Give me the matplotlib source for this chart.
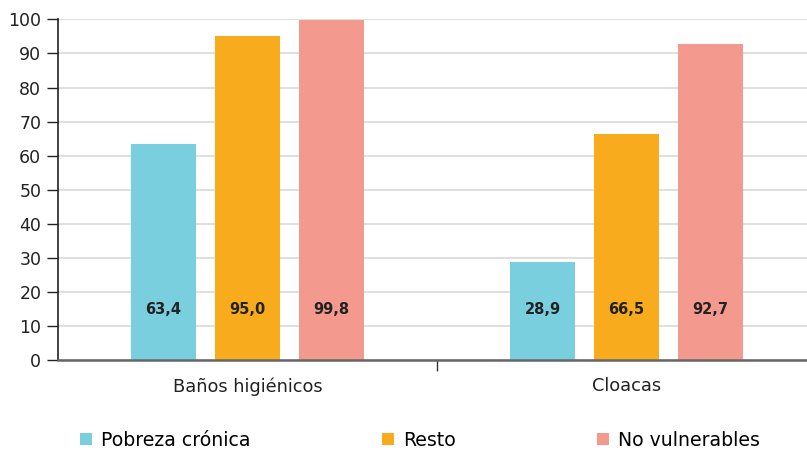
import matplotlib
matplotlib.use("Agg")
import matplotlib.pyplot as plt
import numpy as np

categories = ["Baños higiénicos", "Cloacas"]
series_names = ["Pobreza crónica", "Resto", "No vulnerables"]
pobreza_cronica = [63.4, 28.9]
resto = [95.0, 66.5]
no_vulnerables = [99.8, 92.7]
y_ticks = [0, 10, 20, 30, 40, 50, 60, 70, 80, 90, 100]

colors = ["#7ACFDF", "#F9AB1E", "#F4998D"]
plt.rcParams["font.family"] = ["DejaVu Sans"]

fig = plt.figure(figsize=(8.07, 4.5), dpi=100)
ax = fig.add_axes([58 / 807, 0.199, 1 - 58 / 807, 0.758])

x = np.arange(len(categories))
step = 0.2216
width = 0.174
values = [pobreza_cronica, resto, no_vulnerables]
bars = []
for i, (vals, col) in enumerate(zip(values, colors)):
    b = ax.bar(x + (i - 1) * step, vals, width=width, color=col, zorder=3,
               label=series_names[i])
    bars.append(b)
    for xi, v in zip(x + (i - 1) * step, vals):
        ax.text(xi, 15, f"{v:.1f}".replace(".", ","), ha="center", va="center",
                fontsize=10.5, fontweight="bold", color="#222222", zorder=4)

ax.set_xlim(-0.5, 1.5 - 9 / 379)
ax.set_ylim(0, 100)
ax.set_yticks(y_ticks)
ax.tick_params(axis="y", labelsize=12.5, colors="#222222", length=8, width=1,
               direction="out", pad=4)
ax.yaxis.grid(True, color="#d9d9d9", linewidth=1.2, zorder=0)
ax.set_axisbelow(True)

ax.set_xticks(x)
ax.set_xticklabels(categories, fontsize=12.8, color="#222222")
ax.tick_params(axis="x", length=0, pad=12)
ax.set_xticks([0.5], minor=True)
ax.tick_params(axis="x", which="minor", length=8, width=1, color="#333333")

for s in ["top", "right"]:
    ax.spines[s].set_visible(False)
ax.spines["left"].set_color("#222222")
ax.spines["left"].set_linewidth(1.2)
ax.spines["bottom"].set_color("#666666")
ax.spines["bottom"].set_linewidth(1.8)
ax.spines["bottom"].set_zorder(5)

legend_x = [80 / 807, 382 / 807, 597 / 807]
for b, name, lx in zip(bars, series_names, legend_x):
    fig.legend([b], [name], loc="center left", bbox_to_anchor=(lx, 10 / 450),
               frameon=False, fontsize=13.6, handlelength=0.65, handleheight=0.65,
               handletextpad=0.45, borderaxespad=0, borderpad=0)

fig.savefig("out.png", dpi=100)
